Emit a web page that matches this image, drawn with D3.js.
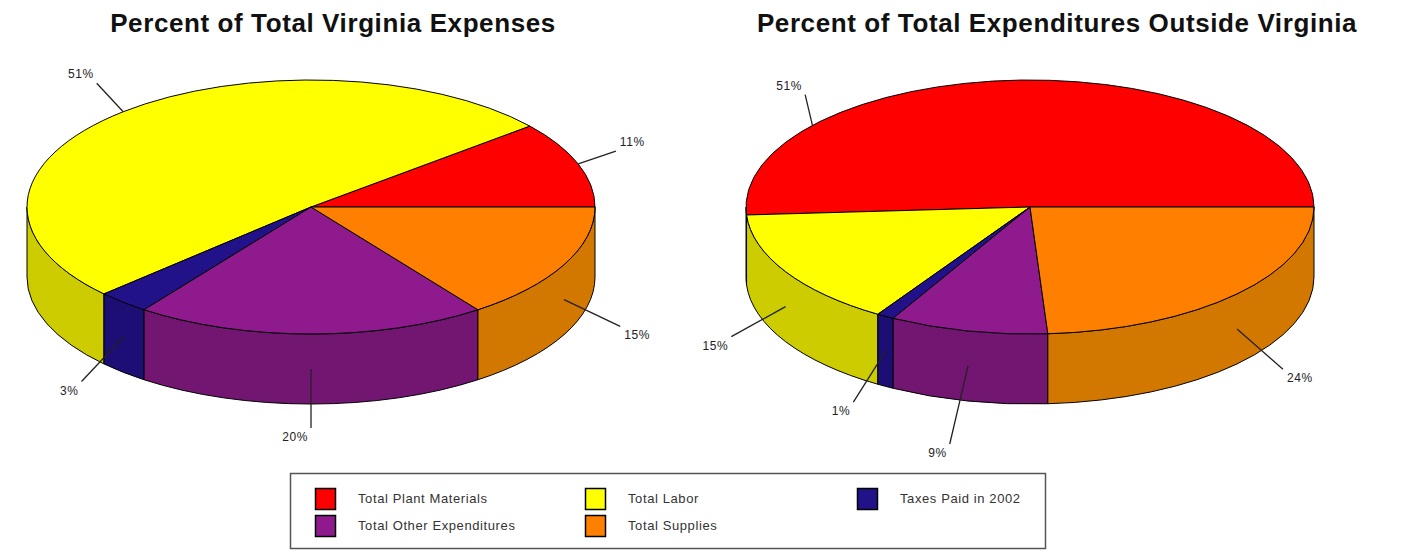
<!DOCTYPE html>
<html>
<head>
<meta charset="utf-8">
<script src="https://cdn.jsdelivr.net/npm/d3@7"></script>
<style>
  html, body { margin: 0; padding: 0; background: #fff; }
  svg { display: block; }
</style>
</head>
<body>
<svg id="chart" width="1401" height="550"></svg>
<script>
// Expense shares, same category order for both pies
const categories = ["Total Plant Materials", "Total Labor", "Taxes Paid in 2002", "Total Other Expenditures", "Total Supplies"];
const virginiaPct = [11, 51, 3, 20, 15];
const outsidePct = [51, 15, 1, 9, 24];
const chartTitles = ["Percent of Total Virginia Expenses", "Percent of Total Expenditures Outside Virginia"];

// Fill colours: top faces and darker side walls
const topColors = ["#ff0000", "#ffff00", "#22128a", "#8e1a8e", "#ff8000"];
const sideColors = ["#cc0000", "#cccc00", "#1c0e74", "#721672", "#d27800"];

const svg = d3.select("#chart");
const FONT = "'Liberation Sans', Arial, Helvetica, sans-serif";

// Geometry of each tilted pie
const RX = 284, RY = 127, DEPTH = 70;
const pies = [
  { cx: 311, cy: 207, values: virginiaPct, title: chartTitles[0], titleX: 333 },
  { cx: 1030, cy: 207, values: outsidePct, title: chartTitles[1], titleX: 1057 }
];

// Hand-placed leader lines where the default spot would crowd the title or a neighbour
const labelTweaks = {
  "1:0": { anchorDeg: 140, outerDeg: 135, extra: -6 },
  "1:3": { extra: 21 }
};

// Angles run counter-clockwise from 3 o'clock
const pie = d3.pie().sort(null).value(d => d.value);

pies.forEach((p, pi) => {
  const g = svg.append("g");
  const data = categories.map((c, i) => ({ cat: c, idx: i, value: p.values[i] }));
  const arcs = pie(data);

  const pt = (a, rx = RX, ry = RY, dy = 0) => [p.cx + rx * Math.cos(a), p.cy - ry * Math.sin(a) + dy];

  // Side walls: only the front half (angles between PI and 2PI) is visible
  arcs.forEach(d => {
    const s = Math.max(d.startAngle, Math.PI);
    const e = Math.min(d.endAngle, 2 * Math.PI);
    if (s >= e) return;
    const [x0, y0] = pt(s), [x1, y1] = pt(e);
    const path = `M${x0},${y0} A${RX},${RY} 0 0 0 ${x1},${y1} L${x1},${y1 + DEPTH} A${RX},${RY} 0 0 1 ${x0},${y0 + DEPTH} Z`;
    g.append("path")
      .attr("d", path)
      .attr("fill", sideColors[d.data.idx])
      .attr("stroke", "#000")
      .attr("stroke-width", 1)
      .attr("stroke-linejoin", "round");
  });

  // Top faces
  arcs.forEach(d => {
    const [x0, y0] = pt(d.startAngle), [x1, y1] = pt(d.endAngle);
    const large = (d.endAngle - d.startAngle) > Math.PI ? 1 : 0;
    const path = `M${p.cx},${p.cy} L${x0},${y0} A${RX},${RY} 0 ${large} 0 ${x1},${y1} Z`;
    g.append("path")
      .attr("d", path)
      .attr("fill", topColors[d.data.idx])
      .attr("stroke", "#000")
      .attr("stroke-width", 1)
      .attr("stroke-linejoin", "round");
  });

  // Percent labels with leader lines
  arcs.forEach(d => {
    const tw = labelTweaks[pi + ":" + d.data.idx] || {};
    const mid = (d.startAngle + d.endAngle) / 2;
    const aA = tw.anchorDeg != null ? tw.anchorDeg * Math.PI / 180 : mid;
    const aO = tw.outerDeg != null ? tw.outerDeg * Math.PI / 180 : aA;
    const front = Math.sin(aA) < 0;
    const half = front ? DEPTH / 2 : 0;
    const extra = tw.extra || 0;
    const a = pt(aA, RX, RY, half);
    const o = front
      ? pt(aO, RX + 63 + extra, RY + 59 + extra, half)
      : pt(aO, RX + 40 + extra, RY + 38 + extra, half);
    g.append("line")
      .attr("x1", a[0]).attr("y1", a[1])
      .attr("x2", o[0]).attr("y2", o[1])
      .attr("stroke", "#222")
      .attr("stroke-width", 1.3);
    const right = Math.cos(aO) > 1e-9;
    g.append("text")
      .attr("x", right ? o[0] + 4 : o[0] - 3)
      .attr("y", front ? o[1] + 13 : o[1] - 5)
      .attr("text-anchor", right ? "start" : "end")
      .attr("font-family", FONT)
      .attr("font-size", 12)
      .attr("letter-spacing", 0.6)
      .attr("fill", "#222")
      .text(d.data.value + "%");
  });

  // Title
  svg.append("text")
    .attr("x", p.titleX)
    .attr("y", 32)
    .attr("text-anchor", "middle")
    .attr("font-family", FONT)
    .attr("font-weight", "bold")
    .attr("font-size", 26)
    .attr("letter-spacing", 0.6)
    .attr("fill", "#111")
    .text(p.title);
});

// Legend
const legend = svg.append("g");
legend.append("rect")
  .attr("x", 290.5).attr("y", 473.5)
  .attr("width", 755).attr("height", 75)
  .attr("fill", "#fff")
  .attr("stroke", "#555")
  .attr("stroke-width", 1.5);

const colX = [315, 585, 857];
const rowY = [488, 515];
categories.forEach((c, i) => {
  const col = i % 3, row = Math.floor(i / 3);
  const x = colX[col], y = rowY[row];
  legend.append("rect")
    .attr("x", x + 0.5).attr("y", y + 0.5)
    .attr("width", 20).attr("height", 21)
    .attr("fill", topColors[i])
    .attr("stroke", "#000")
    .attr("stroke-width", 1.5);
  legend.append("text")
    .attr("x", x + 43)
    .attr("y", y + 15)
    .attr("font-family", FONT)
    .attr("font-size", 13)
    .attr("letter-spacing", 0.6)
    .attr("fill", "#333")
    .text(c);
});
</script>
</body>
</html>
